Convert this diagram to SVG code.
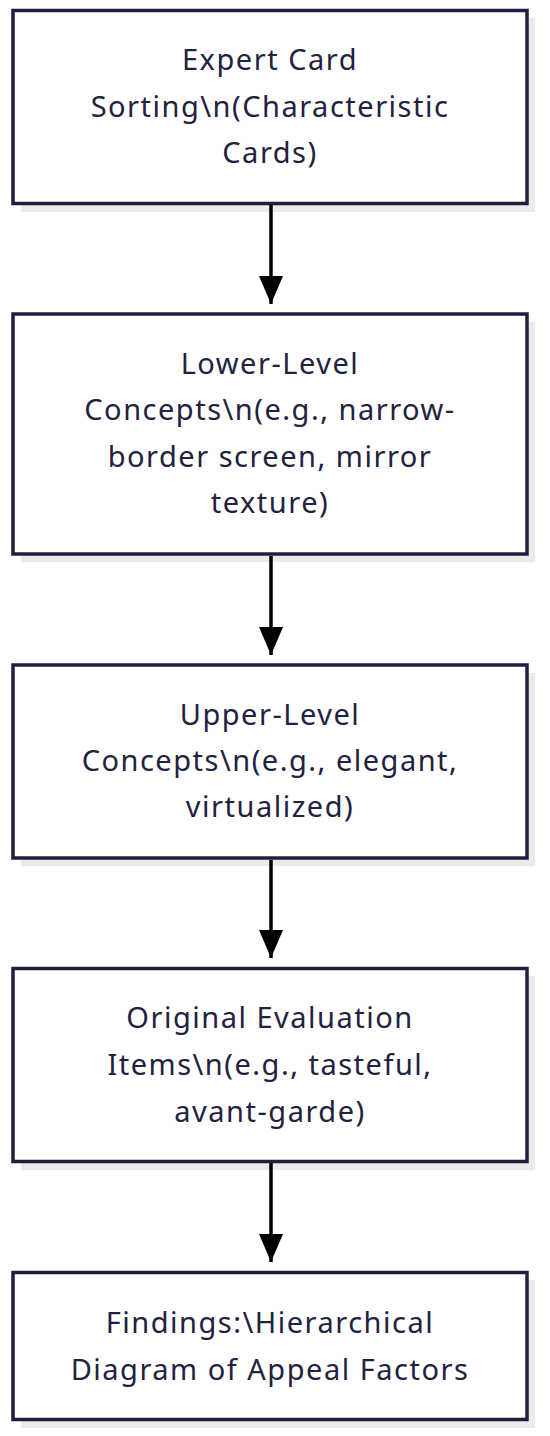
<svg xmlns="http://www.w3.org/2000/svg" width="550" height="1436" viewBox="0 0 550 1436">
<defs>
<style>
.shadow{fill:#ebebeb;}
.box{fill:#ffffff;stroke:#1f1f3d;stroke-width:3.5;}
.lbl{font-family:"Noto Sans","Open Sans",sans-serif;font-size:29px;letter-spacing:1.5px;fill:#22223f;text-anchor:middle;}
.edge{stroke:#000000;stroke-width:3.5;fill:none;}
</style>
<marker id="arrow" markerUnits="userSpaceOnUse" markerWidth="28" markerHeight="24" refX="28" refY="12" orient="auto">
<path d="M0,0 L28,12 L0,24 Z" fill="#000000"/>
</marker>
</defs>
<rect width="550" height="1436" fill="#ffffff"/>
<g id="node1">
<rect class="shadow" x="21" y="18" width="514" height="194"/>
<rect class="box" x="13" y="10.5" width="514" height="193"/>
<text class="lbl" x="270" y="70">Expert Card</text>
<text class="lbl" x="270" y="117">Sorting\n(Characteristic</text>
<text class="lbl" x="270" y="163">Cards)</text>
</g>
<g id="node2">
<rect class="shadow" x="21" y="322" width="514" height="240"/>
<rect class="box" x="13" y="314" width="514" height="240"/>
<text class="lbl" x="270" y="374">Lower-Level</text>
<text class="lbl" x="270" y="420">Concepts\n(e.g., narrow-</text>
<text class="lbl" x="270" y="467">border screen, mirror</text>
<text class="lbl" x="270" y="513">texture)</text>
</g>
<g id="node3">
<rect class="shadow" x="21" y="673" width="514" height="193"/>
<rect class="box" x="13" y="665" width="514" height="193"/>
<text class="lbl" x="270" y="725">Upper-Level</text>
<text class="lbl" x="270" y="771">Concepts\n(e.g., elegant,</text>
<text class="lbl" x="270" y="817">virtualized)</text>
</g>
<g id="node4">
<rect class="shadow" x="21" y="976" width="514" height="194"/>
<rect class="box" x="13" y="968.5" width="514" height="193"/>
<text class="lbl" x="270" y="1028">Original Evaluation</text>
<text class="lbl" x="270" y="1075">Items\n(e.g., tasteful,</text>
<text class="lbl" x="270" y="1122">avant-garde)</text>
</g>
<g id="node5">
<rect class="shadow" x="21" y="1280" width="514" height="148"/>
<rect class="box" x="13" y="1272.5" width="514" height="147"/>
<text class="lbl" x="270" y="1333">Findings:\Hierarchical</text>
<text class="lbl" x="270" y="1380">Diagram of Appeal Factors</text>
</g>
<g id="connectors">
<line class="edge" x1="271" y1="205" x2="271" y2="304" marker-end="url(#arrow)"/>
<line class="edge" x1="271" y1="556" x2="271" y2="655" marker-end="url(#arrow)"/>
<line class="edge" x1="271" y1="860" x2="271" y2="958" marker-end="url(#arrow)"/>
<line class="edge" x1="271" y1="1163" x2="271" y2="1262" marker-end="url(#arrow)"/>
</g>
</svg>
